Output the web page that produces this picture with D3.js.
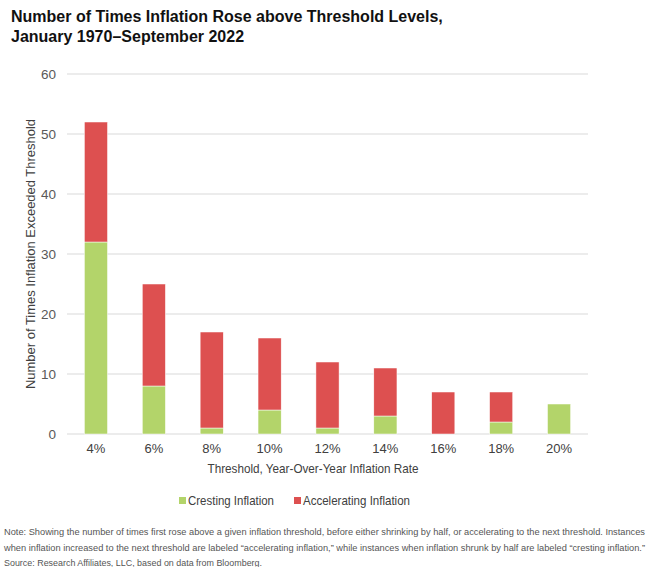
<!DOCTYPE html>
<html>
<head>
<meta charset="utf-8">
<script src="https://cdn.jsdelivr.net/npm/d3@7"></script>
<style>
  body { margin: 0; background: #fff; }
  svg { display: block; font-family: "Liberation Sans", Arial, sans-serif; }
</style>
</head>
<body>
<div id="chart"></div>
<script>
// Data
const thresholds = ['4%', '6%', '8%', '10%', '12%', '14%', '16%', '18%', '20%'];
const cresting = [32, 8, 1, 4, 1, 3, 0, 2, 5];
const accelerating = [20, 17, 16, 12, 11, 8, 7, 5, 0];
const seriesNames = ['Cresting Inflation', 'Accelerating Inflation'];
const seriesColors = ['#b3d46a', '#dd5050'];
const yTicks = [0, 10, 20, 30, 40, 50, 60];

const width = 650;
const height = 567;
const margin = {top: 74, right: 62, bottom: 133, left: 67};

const svg = d3.select('#chart')
    .append('svg')
    .attr('width', width)
    .attr('height', height);

// Title
const title = svg.append('text')
    .attr('font-size', 16)
    .attr('font-weight', 'bold')
    .attr('fill', '#111');
title.append('tspan').attr('x', 11).attr('y', 22).text('Number of Times Inflation Rose above Threshold Levels,');
title.append('tspan').attr('x', 11).attr('y', 42).text('January 1970\u2013September 2022');

// Scales
const x = d3.scaleBand()
    .domain(thresholds)
    .range([margin.left, width - margin.right])
    .paddingInner(0.6)
    .paddingOuter(0.3);

const y = d3.scaleLinear()
    .domain([0, 60])
    .range([height - margin.bottom, margin.top]);

// Gridlines
svg.append('g')
    .selectAll('line')
    .data(yTicks)
    .enter()
    .append('line')
    .attr('x1', margin.left)
    .attr('x2', width - margin.right)
    .attr('y1', d => y(d))
    .attr('y2', d => y(d))
    .attr('stroke', '#d9d9d9')
    .attr('stroke-width', 1);

// Stacked bars
const rows = thresholds.map((t, i) => ({t: t, c: cresting[i], a: accelerating[i]}));
const stacked = d3.stack().keys(['c', 'a'])(rows);

svg.append('g')
    .selectAll('g')
    .data(stacked)
    .enter()
    .append('g')
    .attr('fill', (d, i) => seriesColors[i])
    .selectAll('rect')
    .data(d => d)
    .enter()
    .append('rect')
    .attr('x', d => x(d.data.t))
    .attr('y', d => y(d[1]))
    .attr('width', x.bandwidth())
    .attr('height', d => y(d[0]) - y(d[1]))
    .attr('stroke', '#fff')
    .attr('stroke-width', 0.5);

// Y axis
const yAxis = svg.append('g')
    .attr('transform', `translate(${margin.left},0)`)
    .call(d3.axisLeft(y).tickValues(yTicks).tickSize(0).tickPadding(11));
yAxis.select('.domain').remove();
yAxis.selectAll('text').attr('font-size', 13.5).attr('fill', '#595959').style('font-family', 'Liberation Sans, Arial, sans-serif');

// X axis
const xAxis = svg.append('g')
    .attr('transform', `translate(0,${y(0)})`)
    .call(d3.axisBottom(x).tickSize(0).tickPadding(10));
xAxis.select('.domain').remove();
xAxis.selectAll('text').attr('font-size', 13).attr('fill', '#404040').style('font-family', 'Liberation Sans, Arial, sans-serif');

// Axis titles
svg.append('text')
    .attr('transform', `translate(35,${(y(0) + y(60)) / 2}) rotate(-90)`)
    .attr('text-anchor', 'middle')
    .attr('font-size', 13)
    .attr('fill', '#404040')
    .attr('textLength', 270)
    .attr('lengthAdjust', 'spacingAndGlyphs')
    .text('Number of Times Inflation  Exceeded Threshold');

svg.append('text')
    .attr('x', 313)
    .attr('y', 473)
    .attr('text-anchor', 'middle')
    .attr('font-size', 13)
    .attr('fill', '#404040')
    .attr('textLength', 211)
    .attr('lengthAdjust', 'spacingAndGlyphs')
    .text('Threshold, Year-Over-Year Inflation Rate');

// Legend
const legendX = [179, 294];
const legendLen = [86, 107];
const legend = svg.append('g');
seriesNames.forEach((name, i) => {
    legend.append('rect')
        .attr('x', legendX[i])
        .attr('y', 497)
        .attr('width', 7)
        .attr('height', 7)
        .attr('fill', seriesColors[i]);
    legend.append('text')
        .attr('x', legendX[i] + 9)
        .attr('y', 505)
        .attr('font-size', 13)
        .attr('fill', '#404040')
        .attr('textLength', legendLen[i])
        .attr('lengthAdjust', 'spacingAndGlyphs')
        .text(name);
});

// Notes
const notes = [
    'Note: Showing the number of times first rose above a given inflation threshold, before either shrinking by half, or accelerating to the next threshold. Instances',
    'when inflation increased to the next threshold are labeled \u201caccelerating inflation,\u201d while instances when inflation shrunk by half are labeled \u201ccresting inflation.\u201d',
    'Source: Research Affiliates, LLC, based on data from Bloomberg.'
];
const noteWidths = [641, 641, 258];
notes.forEach((n, i) => {
    svg.append('text')
        .attr('x', 4)
        .attr('y', 535 + i * 15.5)
        .attr('font-size', 9)
        .style('font-family', '"Liberation Sans Narrow", "Liberation Sans", Arial, sans-serif')
        .attr('fill', '#555')
        .attr('textLength', noteWidths[i])
        .attr('lengthAdjust', 'spacingAndGlyphs')
        .text(n);
});
</script>
</body>
</html>
